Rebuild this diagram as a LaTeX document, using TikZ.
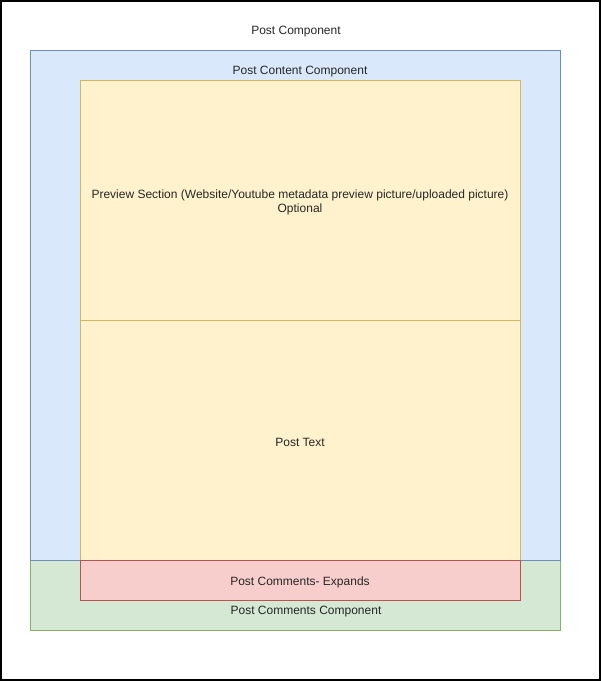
\documentclass[tikz,border=0pt]{standalone}
\usepackage{fontspec}
\setmainfont{Liberation Sans}
\usepackage{xcolor}
\usetikzlibrary{positioning}

\definecolor{blueFill}{HTML}{DAE8FC}
\definecolor{blueLine}{HTML}{6C8EBF}
\definecolor{yellowFill}{HTML}{FFF2CC}
\definecolor{yellowLine}{HTML}{D6B656}
\definecolor{greenFill}{HTML}{D5E8D4}
\definecolor{greenLine}{HTML}{82B366}
\definecolor{redFill}{HTML}{F8CECC}
\definecolor{redLine}{HTML}{B85450}

\begin{document}
\begin{tikzpicture}[x=1pt,y=-1pt,
    font=\fontsize{12}{14}\selectfont,
    box/.style={draw,rectangle,inner sep=0pt,outer sep=0pt,line width=0.9pt,anchor=north west},
    txt/.style={text=black!85,align=center}]
  \useasboundingbox (0,0) rectangle (601,681);
  % --- outer post component
  \node[box,draw=black,line width=1.8pt,minimum width=599pt,minimum height=679pt] (post) at (0.9,0.9) {};
  \node[txt] (postlbl) at (296,32) {Post Component};
  % --- comments component (under the content one)
  \node[box,draw=greenLine,fill=greenFill,minimum width=530pt,minimum height=70pt] (comments) at (30,560) {};
  \node[txt] (commentslbl) at (306,612) {Post Comments Component};
  % --- content component
  \node[box,draw=blueLine,fill=blueFill,minimum width=530pt,minimum height=510pt] (content) at (30,50) {};
  \node[txt] (contentlbl) at (300,72) {Post Content Component};
  % --- inner sections
  \node[box,draw=yellowLine,fill=yellowFill,minimum width=440pt,minimum height=240pt] (preview) at (80,80) {};
  \node[txt] (previewlbl) at ([yshift=-2pt]preview.center)
    {Preview Section (Website/Youtube metadata preview picture/uploaded picture)\\Optional};
  \node[box,draw=yellowLine,fill=yellowFill,minimum width=440pt,minimum height=240pt] (posttext) at (80,320) {};
  \node[txt] (posttextlbl) at ([yshift=-2pt]posttext.center) {Post Text};
  \node[box,draw=redLine,fill=redFill,minimum width=440pt,minimum height=40pt] (expands) at (80,560) {};
  \node[txt] (expandslbl) at ([yshift=-2pt]expands.center) {Post Comments- Expands};
\end{tikzpicture}
\end{document}
